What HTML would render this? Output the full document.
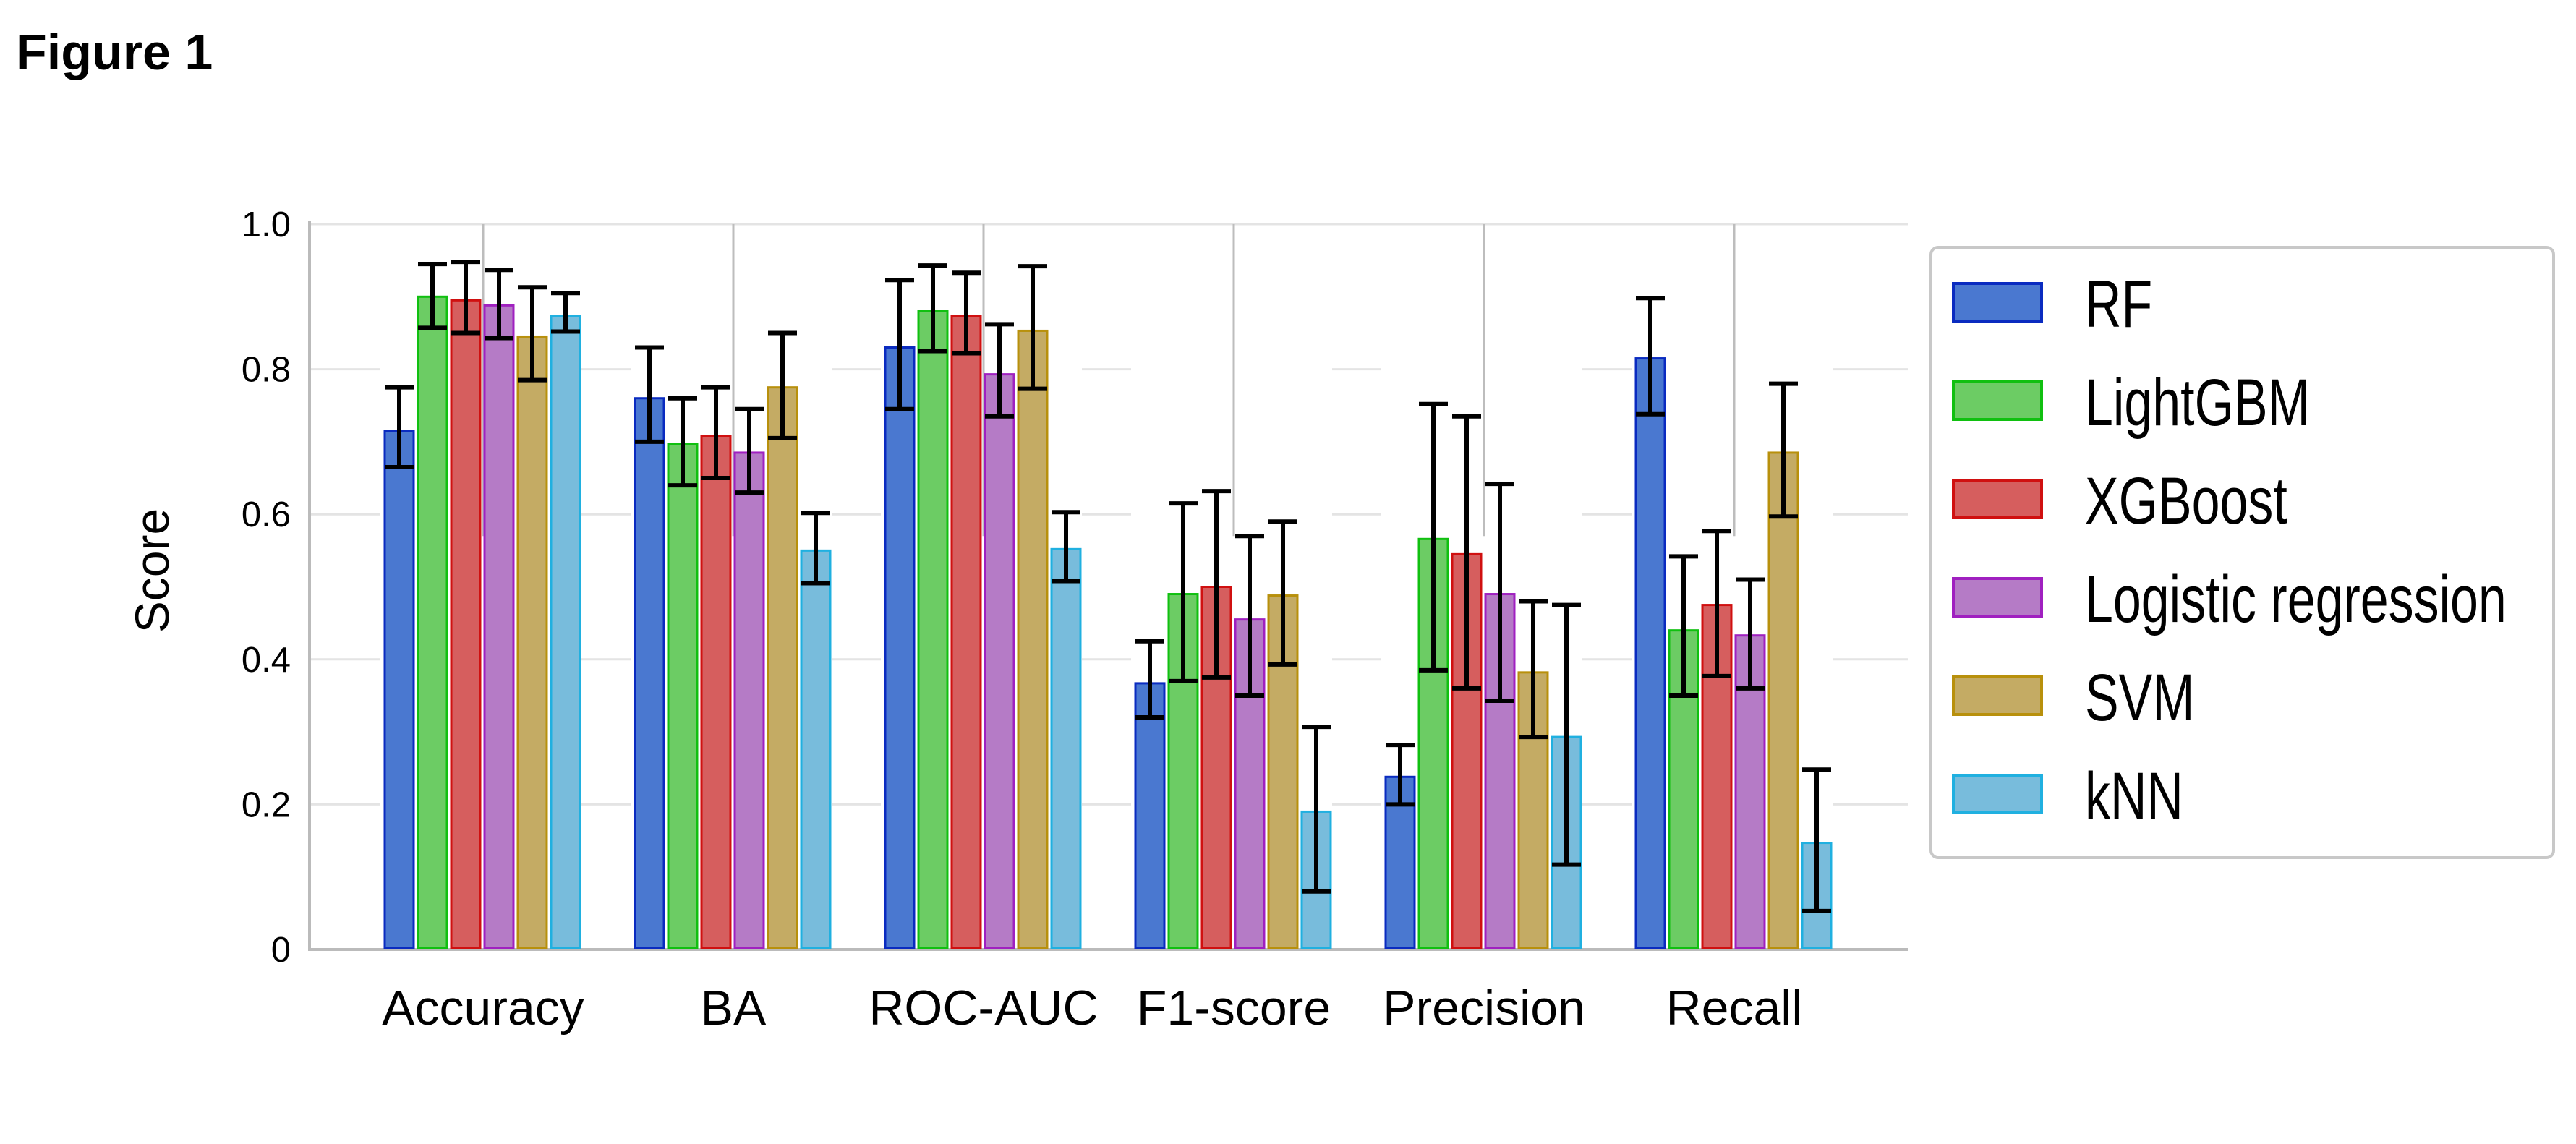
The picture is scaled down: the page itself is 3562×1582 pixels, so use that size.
<!DOCTYPE html>
<html><head><meta charset="utf-8">
<style>
html,body{margin:0;padding:0;background:#fff;}
svg{display:block;font-family:"Liberation Sans",Arial,sans-serif;}
</style></head>
<body>
<svg id="chart" width="3562" height="1582" viewBox="0 0 3562 1582" xmlns="http://www.w3.org/2000/svg">
<text x="22" y="96" font-size="70" font-weight="bold">Figure 1</text>
<g id="plot"></g>
<g id="legend"></g>
</svg>
<script>
const categories = ["Accuracy","BA","ROC-AUC","F1-score","Precision","Recall"];
const models = ["RF","LightGBM","XGBoost","Logistic regression","SVM","kNN"];
const rfVals   = [0.715,0.760,0.830,0.367,0.238,0.815];
const rfLo     = [0.665,0.700,0.745,0.320,0.200,0.738];
const rfHi     = [0.775,0.830,0.923,0.425,0.282,0.898];
const lgbVals  = [0.900,0.697,0.880,0.490,0.566,0.440];
const lgbLo    = [0.857,0.640,0.825,0.370,0.385,0.350];
const lgbHi    = [0.945,0.760,0.943,0.615,0.752,0.542];
const xgbVals  = [0.895,0.708,0.873,0.500,0.545,0.475];
const xgbLo    = [0.850,0.650,0.822,0.375,0.360,0.377];
const xgbHi    = [0.948,0.775,0.933,0.632,0.735,0.577];
const lrVals   = [0.888,0.685,0.793,0.455,0.490,0.433];
const lrLo     = [0.843,0.630,0.735,0.350,0.343,0.360];
const lrHi     = [0.937,0.745,0.862,0.570,0.642,0.510];
const svmVals  = [0.845,0.775,0.853,0.488,0.382,0.685];
const svmLo    = [0.785,0.705,0.773,0.393,0.293,0.597];
const svmHi    = [0.913,0.850,0.942,0.590,0.480,0.780];
const knnVals  = [0.873,0.550,0.552,0.190,0.293,0.147];
const knnLo    = [0.852,0.505,0.508,0.080,0.117,0.053];
const knnHi    = [0.905,0.602,0.603,0.307,0.475,0.248];
const yTicks = [0,0.2,0.4,0.6,0.8,1.0];
const yTickLabels = ["0","0.2","0.4","0.6","0.8","1.0"];

const series = [
  {v:rfVals,lo:rfLo,hi:rfHi,fill:"#4a78d0",stroke:"#0a2bc0"},
  {v:lgbVals,lo:lgbLo,hi:lgbHi,fill:"#6ccc64",stroke:"#10c010"},
  {v:xgbVals,lo:xgbLo,hi:xgbHi,fill:"#d65e5e",stroke:"#d01010"},
  {v:lrVals,lo:lrLo,hi:lrHi,fill:"#b57bc6",stroke:"#a020c0"},
  {v:svmVals,lo:svmLo,hi:svmHi,fill:"#c4ab64",stroke:"#b8900c"},
  {v:knnVals,lo:knnLo,hi:knnHi,fill:"#78bcdc",stroke:"#20b0e0"}
];
const NS="http://www.w3.org/2000/svg";
const X0=428, X1=2638, Y0=1313, Y1=310;
const y = v => Y0 - v*(Y0-Y1);
const band = 346, firstCenter = 668;
const xc = i => firstCenter + i*band;
const pitch=46, bw=40;
const plot=document.getElementById('plot');
function mk(tag,attrs,parent){const e=document.createElementNS(NS,tag);for(const k in attrs)e.setAttribute(k,attrs[k]);(parent||plot).appendChild(e);return e;}

yTicks.forEach((t,i)=>{
  if(t>0){const g=mk('line',{x1:X0,x2:X1,y1:y(t),y2:y(t),stroke:'#e4e4e4','stroke-width':3});
  
  }
  const tx=mk('text',{x:402,y:y(t)+17,'font-size':49,'text-anchor':'end',fill:'#000'});
  tx.textContent=yTickLabels[i];
  
  
});
categories.forEach((c,i)=>{
  const gs=xc(i)-3*pitch;
  mk('rect',{x:gs-4,y:Y1+4,width:6*pitch+2,height:Y0-Y1-4,fill:'#fff'});
  const l=mk('line',{x1:xc(i),x2:xc(i),y1:Y1,y2:y(0.57),stroke:'#bdbdbd','stroke-width':3});
  
  
});
const ax=mk('path',{d:`M${X0} ${Y1-4} V${Y0} H${X1}`,fill:'none',stroke:'#bbbbbb','stroke-width':4});


categories.forEach((c,i)=>{
  const gs=xc(i)-3*pitch;
  series.forEach((s,j)=>{
    const bx=gs+j*pitch+2;
    const r=mk('rect',{x:bx,y:y(s.v[i]),width:bw,height:Y0-2-y(s.v[i]),fill:s.fill,stroke:s.stroke,'stroke-width':3});
    
    
    const cx=bx+bw/2, t=y(s.hi[i]), b=y(s.lo[i]);
    const e=mk('path',{d:`M${cx} ${t} V${b} M${bx} ${t} H${bx+bw} M${bx} ${b} H${bx+bw}`,stroke:'#000','stroke-width':6,fill:'none'});
    
    
  });
  const lt=mk('text',{x:xc(i),y:1417,'font-size':68,'text-anchor':'middle',fill:'#000'});
  lt.textContent=c;
  
  
});
const yl=mk('text',{x:0,y:0,'font-size':66,'text-anchor':'middle',transform:'translate(233,789) rotate(-90)'});
yl.textContent='Score';


const lg=document.getElementById('legend');
mk('rect',{x:2670,y:342,width:861,height:844,rx:10,fill:'#fff',stroke:'#c8c8c8','stroke-width':4},lg);
models.forEach((m,j)=>{
  const ry=392+j*136;
  const sw=mk('rect',{x:2701,y:ry,width:122,height:52,fill:series[j].fill,stroke:series[j].stroke,'stroke-width':4},lg);
  
  
  const t=mk('text',{x:0,y:0,'font-size':92,fill:'#000',transform:`translate(2883,${ry+60}) scale(0.76,1)`},lg);
  t.textContent=m;
  
  
});
</script>
</body></html>
